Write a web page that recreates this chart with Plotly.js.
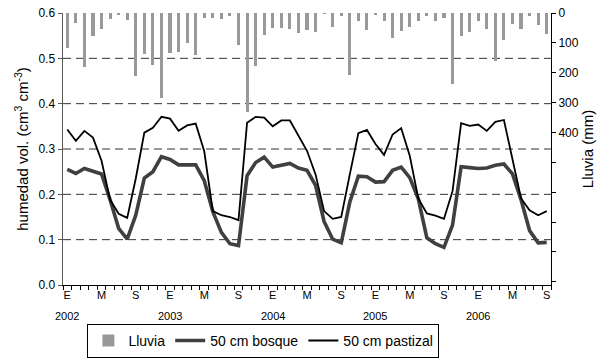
<!DOCTYPE html>
<html><head><meta charset="utf-8">
<script src="https://cdn.plot.ly/plotly-3.0.1.min.js"></script>
<style>html,body{margin:0;padding:0;background:#fff}#chart{width:602px;height:359px}</style>
</head><body><div id="chart"></div>
<script>
const years = [2002, 2003, 2004, 2005, 2006];
const monthLetters = ['E','F','M','A','M','J','J','A','S','O','N','D'];
const nMonths = 57; // Jan 2002 .. Sep 2006

// Monthly rainfall (mm)
const lluvia = [116,34,181,78,53,19,8,22,212,136,175,285,
                133,131,100,140,16,16,19,10,108,330,178,72,
                49,50,55,66,58,62,5,47,10,208,26,57,
                6,28,85,61,46,27,9,28,18,239,77,62,
                27,55,160,92,38,55,10,41,70];
// Soil moisture at 50 cm, forest (cm3 cm-3)
const bosque = [0.255,0.246,0.257,0.252,0.245,0.188,0.125,0.101,0.154,0.236,0.250,0.283,
                0.277,0.265,0.265,0.265,0.230,0.162,0.116,0.091,0.087,0.241,0.270,0.282,
                0.260,0.264,0.268,0.258,0.253,0.220,0.140,0.101,0.093,0.183,0.240,0.239,
                0.227,0.228,0.253,0.260,0.237,0.190,0.104,0.091,0.083,0.132,0.261,0.259,
                0.257,0.258,0.264,0.267,0.245,0.188,0.120,0.093,0.094];
// Soil moisture at 50 cm, pasture (cm3 cm-3)
const pastizal = [0.343,0.318,0.340,0.325,0.274,0.188,0.157,0.148,0.235,0.336,0.347,0.371,
                  0.367,0.340,0.352,0.356,0.295,0.163,0.154,0.150,0.143,0.358,0.371,0.369,
                  0.350,0.363,0.363,0.330,0.296,0.244,0.163,0.146,0.150,0.244,0.335,0.342,
                  0.311,0.287,0.332,0.346,0.285,0.191,0.158,0.153,0.146,0.207,0.357,0.351,
                  0.354,0.340,0.360,0.364,0.278,0.191,0.165,0.154,0.163];

const leftTicks = [0, 0.1, 0.2, 0.3, 0.4, 0.5, 0.6];
const leftTickText = ['0.0','0.1','0.2','0.3','0.4','0.5','0.6'];
const gridVals = [0.1, 0.2, 0.3, 0.4, 0.5];
const rightTicks = [0,100,200,300,400,500,600,700,800,900];
const rightTickText = ['0','100','200','300','400','','','','',''];

const categories = [];
const tickText = [];
const yearAnnotations = [];
const FONT = 'Liberation Sans, Arial, sans-serif';
for (let i = 0; i < nMonths; i++) {
  const y = years[Math.floor(i / 12)];
  const m = i % 12;
  const cat = y + '-' + String(m + 1).padStart(2, '0');
  categories.push(cat);
  tickText.push(i % 4 === 0 ? monthLetters[m] : '');
  if (m === 0) {
    yearAnnotations.push({x: cat, xref:'x', y:-0.113, yref:'paper', yanchor:'middle',
      text: String(y), showarrow:false, font:{family:FONT, size:11, color:'#000'}});
  }
}

const traces = [
  {type:'bar', name:'Lluvia', x:categories, y:lluvia, base:0, yaxis:'y2',
   width:0.36, marker:{color:'#999999', line:{width:0}}},
  {type:'scatter', mode:'lines', name:'50 cm bosque', x:categories, y:bosque,
   line:{color:'#404040', width:3.6}},
  {type:'scatter', mode:'lines', name:'50 cm pastizal', x:categories, y:pastizal,
   line:{color:'#000000', width:1.8}}
];

const gridShapes = gridVals.map(v => ({type:'line', xref:'paper', x0:0, x1:1, yref:'y', y0:v, y1:v,
  line:{color:'#333', width:1, dash:'8px,5px'}, layer:'below'}));

const layout = {
  width:602, height:359,
  margin:{l:63, r:51, t:13, b:74, autoexpand:false},
  paper_bgcolor:'#ffffff', plot_bgcolor:'#ffffff',
  font:{family:FONT, size:12, color:'#000'},
  showlegend:true,
  legend:{orientation:'h', x:0.05, y:-0.268, xanchor:'left', yanchor:'bottom',
          bordercolor:'#000', borderwidth:1, bgcolor:'#fff',
          font:{family:FONT, size:14, color:'#000'}, traceorder:'normal'},
  shapes: gridShapes,
  annotations: yearAnnotations,
  xaxis:{type:'category', range:[-0.5, nMonths-0.5], tickmode:'array',
         tickvals:categories, ticktext:tickText, tickson:'boundaries',
         ticks:'outside', ticklen:4, tickcolor:'#000', tickwidth:1,
         showline:true, linecolor:'#000', linewidth:1, showgrid:false, zeroline:false,
         automargin:false, tickangle:0, tickfont:{family:FONT, size:11, color:'#000'}},
  yaxis:{range:[0,0.6], tickmode:'array', tickvals:leftTicks, ticktext:leftTickText,
         ticks:'outside', ticklen:4, tickcolor:'#595959',
         showline:true, linecolor:'#595959', linewidth:1.5,
         showgrid:false, zeroline:false, automargin:false,
         tickfont:{family:FONT, size:12, color:'#000'},
         title:{text:'humedad vol. (cm<sup>3</sup> cm<sup>-3</sup>)', font:{family:FONT, size:15, color:'#000'}, standoff:6}},
  yaxis2:{overlaying:'y', side:'right', range:[911,0], autorange:false,
          tickmode:'array', tickvals:rightTicks, ticktext:rightTickText,
          ticks:'outside', ticklen:4, tickcolor:'#000',
          showline:true, linecolor:'#000', linewidth:1, showgrid:false, zeroline:false,
          automargin:false, tickfont:{family:FONT, size:12, color:'#000'},
          title:{text:'Lluvia (mm)', font:{family:FONT, size:15, color:'#000'}, standoff:4}},
  bargap:0
};

Plotly.newPlot('chart', traces, layout, {staticPlot:true, displayModeBar:false});
</script>
</body></html>
